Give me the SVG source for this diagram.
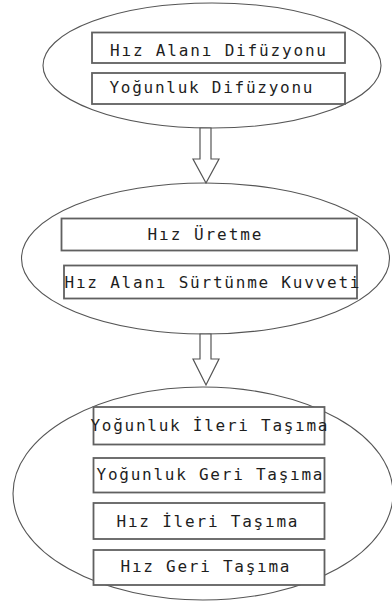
<svg xmlns="http://www.w3.org/2000/svg" width="392" height="607" viewBox="0 0 392 607">
<style>
.bg{fill:#ffffff}
.ell{fill:#ffffff;stroke:#555555;stroke-width:1.1}
.box{fill:#ffffff;stroke:#606060;stroke-width:1.8}
.arr{fill:#ffffff;stroke:#555555;stroke-width:1.2;stroke-linejoin:miter}
.lbl{font-family:"DejaVu Sans Mono","Liberation Mono",monospace;font-size:16px;fill:#1e1e1e}
</style>
<rect class="bg" x="0" y="0" width="392" height="607"/>
<g id="group1">
  <ellipse class="ell" cx="212" cy="65.5" rx="169" ry="62.5"/>
</g>
<g id="group2">
  <ellipse class="ell" cx="205.5" cy="258.5" rx="184" ry="75.5"/>
</g>
<g id="group3">
  <ellipse class="ell" cx="203" cy="493.5" rx="190" ry="106.5"/>
</g>
<g id="connectors">
  <polygon class="arr" points="200,128 200,159 193,159 206,183 219,159 211,159 211,128"/>
  <polygon class="arr" points="200,334 200,359 193,359 206,385 219,359 211,359 211,334"/>
</g>
<g id="hiz-alani-difuzyonu">
  <rect class="box" x="92" y="32.5" width="253" height="30.5"/>
  <text class="lbl" x="110" y="55.5" textLength="216" lengthAdjust="spacing">Hız Alanı Difüzyonu</text>
</g>
<g id="yogunluk-difuzyonu">
  <rect class="box" x="92" y="73" width="253" height="31"/>
  <text class="lbl" x="109.5" y="93" textLength="203" lengthAdjust="spacing">Yoğunluk Difüzyonu</text>
</g>
<g id="hiz-uretme">
  <rect class="box" x="61.5" y="218.5" width="295.5" height="32"/>
  <text class="lbl" x="147.5" y="240" textLength="114" lengthAdjust="spacing">Hız Üretme</text>
</g>
<g id="hiz-alani-surtunme-kuvveti">
  <rect class="box" x="64" y="265.5" width="293" height="33"/>
  <text class="lbl" x="64.5" y="288" textLength="295" lengthAdjust="spacing">Hız Alanı Sürtünme Kuvveti</text>
</g>
<g id="yogunluk-ileri-tasima">
  <rect class="box" x="93.5" y="407" width="231" height="37.5"/>
  <text class="lbl" x="90.5" y="430.5" textLength="237" lengthAdjust="spacing">Yoğunluk İleri Taşıma</text>
</g>
<g id="yogunluk-geri-tasima">
  <rect class="box" x="93.5" y="458" width="231" height="34.5"/>
  <text class="lbl" x="96.5" y="480" textLength="226" lengthAdjust="spacing">Yoğunluk Geri Taşıma</text>
</g>
<g id="hiz-ileri-tasima">
  <rect class="box" x="93.5" y="503" width="231" height="36"/>
  <text class="lbl" x="116.5" y="527" textLength="181" lengthAdjust="spacing">Hız İleri Taşıma</text>
</g>
<g id="hiz-geri-tasima">
  <rect class="box" x="93.5" y="550" width="231" height="35"/>
  <text class="lbl" x="120.5" y="572" textLength="169" lengthAdjust="spacing">Hız Geri Taşıma</text>
</g>
</svg>
